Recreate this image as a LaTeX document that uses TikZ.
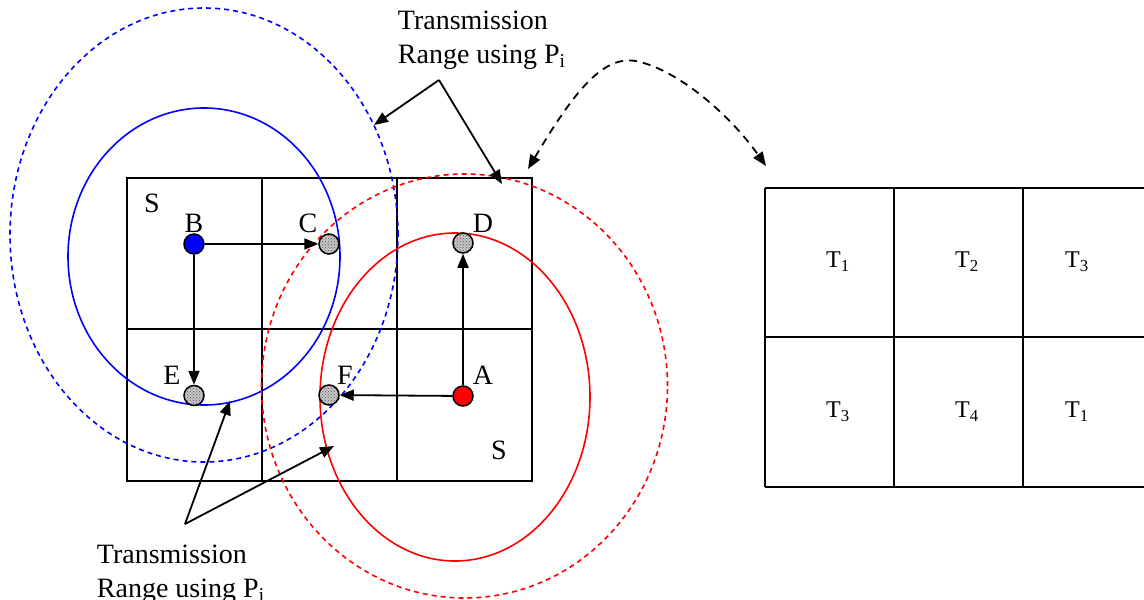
\documentclass[tikz,border=0pt]{standalone}
\usepackage{fontspec}
\setmainfont{Liberation Serif}
\usetikzlibrary{arrows.meta,patterns}
\begin{document}
\begin{tikzpicture}[x=1pt,y=-1pt,
  line width=1.8pt,
  arr/.style={-{Triangle[length=14pt,width=11pt]}},
  darr/.style={{Triangle[length=14pt,width=11pt]}-{Triangle[length=14pt,width=11pt]},dash pattern=on 8pt off 6pt},
  big/.style={font=\fontsize{28}{33}\selectfont, inner sep=0pt},
  small/.style={font=\fontsize{24}{28}\selectfont, inner sep=0pt},
  station/.style={circle, draw=black, line width=1.5pt, minimum size=20pt, inner sep=0pt},
  hatched/.style={station, preaction={fill=gray!45}, pattern=crosshatch dots, pattern color=gray!70!black},
  rng/.style={line width=1.6pt},
  rngd/.style={line width=1.6pt, dash pattern=on 5pt off 4pt}
]
\useasboundingbox[fill=white] (0,0) rectangle (1144,600);

% grid (left)
\draw (127,178) rectangle (532,481);
\draw (262,178) -- (262,481);
\draw (397,178) -- (397,481);
\draw (127,329) -- (532,329);

% ranges
\draw[rng, blue] (204,256.5) ellipse [x radius=136pt, y radius=148.5pt];
\draw[rngd, blue] (204,235) ellipse [x radius=194pt, y radius=227pt];
\draw[rng, red] (455,397) ellipse [x radius=135pt, y radius=164pt];
\draw[rngd, red] (464.5,386) ellipse [x radius=203pt, y radius=212pt];

% stations
\node[station, fill=blue] (B) at (194,244) {};
\node[hatched] (C) at (329,244) {};
\node[hatched] (D) at (463,243) {};
\node[hatched] (E) at (194,395.5) {};
\node[hatched] (F) at (329,395) {};
\node[station, fill=red] (A) at (463,396) {};

\draw[arr] (B) -- (C);
\draw[arr] (B) -- (E);
\draw[arr] (A) -- (D);
\draw[arr] (A) -- (F);

% labels
\node[big] (S1) at (152,203) {S};
\node[big] (Sb) at (499,450) {S};
\node[big] (lB) at (194,223) {B};
\node[big] (lC) at (308,223) {C};
\node[big] (lD) at (483,223) {D};
\node[big] (lE) at (172,375) {E};
\node[big] (lF) at (345,375) {F};
\node[big] (lA) at (483,375) {A};

% top label
\node[big, anchor=base west] (tt1) at (397,29) {Transmission};
\node[big, anchor=base west] (tt2) at (397,63) {Range using P\textsubscript{i}};
\coordinate (tapex) at (439,80);
\coordinate (ttip1) at (374,125);
\coordinate (ttip2) at (502,184);
\draw[arr] (tapex) -- (ttip1);
\draw[arr] (tapex) -- (ttip2);

% bottom label
\node[big, anchor=base west] (bt1) at (96,563) {Transmission};
\node[big, anchor=base west] (bt2) at (96,597) {Range using P\textsubscript{j}};
\coordinate (bapex) at (185,524);
\coordinate (btip1) at (230,401);
\coordinate (btip2) at (334,446);
\draw[arr] (bapex) -- (btip1);
\draw[arr] (bapex) -- (btip2);

% mapping arrow
\coordinate (mL) at (528,169);
\coordinate (mR) at (766,166);
\draw[darr] (mL) .. controls (575,90) and (605,52) .. (640,62) .. controls (680,72) and (730,115) .. (mR);

% right grid
\draw (765,188) -- (1152,188);
\draw (765,337) -- (1152,337);
\draw (765,487) -- (1152,487);
\draw (765,188) -- (765,487);
\draw (894,188) -- (894,487);
\draw (1023,188) -- (1023,487);
\draw (1152,188) -- (1152,487);

\node[small] (t11) at (838,262) {T\textsubscript{1}};
\node[small] (t12) at (967,262) {T\textsubscript{2}};
\node[small] (t13) at (1077,262) {T\textsubscript{3}};
\node[small] (t21) at (838,412) {T\textsubscript{3}};
\node[small] (t22) at (967,412) {T\textsubscript{4}};
\node[small] (t23) at (1077,412) {T\textsubscript{1}};
\end{tikzpicture}
\end{document}
